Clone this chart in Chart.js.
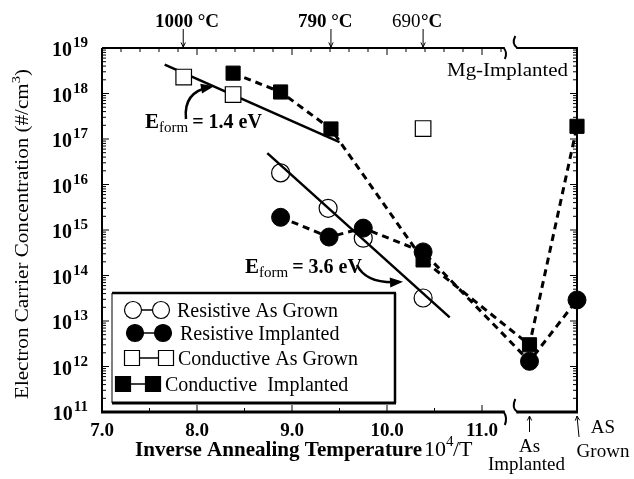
<!DOCTYPE html>
<html>
<head>
<meta charset="utf-8">
<script src="https://cdn.jsdelivr.net/npm/chart.js@4.4.0/dist/chart.umd.min.js"></script>
<style>
  html, body { margin: 0; padding: 0; background: #fff; }
  #wrap { width: 634px; height: 479px; }
</style>
</head>
<body>
<div id="wrap"><canvas id="myChart" width="634" height="479"></canvas></div>
<script>
// values: x = 10^4/T, y = electron concentration (cm^-3)
// 11.5 = "As Implanted", 12.0 = "AS Grown" (right of the axis break)
const resAsGrownX = [8.88, 9.38, 9.75, 10.38];
const resAsGrownY = [1.8e16, 3.0e15, 6.6e14, 3.2e13];

const resImplX = [8.88, 9.39, 9.75, 10.38, 11.5, 12.0];
const resImplY = [1.9e15, 7.0e14, 1.1e15, 3.3e14, 1.3e12, 2.9e13];

const condAsGrownX = [7.86, 8.38, 10.38];
const condAsGrownY = [2.3e18, 9.5e17, 1.7e17];

const condImplX = [8.38, 8.88, 9.41, 10.38, 11.5, 12.0];
const condImplY = [2.8e18, 1.08e18, 1.66e17, 2.2e14, 3.0e12, 1.9e17];

// the two activation energy fits
const fit14X = [7.66, 9.5];
const fit14Y = [4.3e18, 8.5e16];
const fit36X = [8.74, 10.66];
const fit36Y = [4.9e16, 1.2e13];

const xTickValues = [7, 8, 9, 10, 11];
const xTickLabels = ['7.0', '8.0', '9.0', '10.0', '11.0'];
const yExponents = [11, 12, 13, 14, 15, 16, 17, 18, 19];

const tempValues = [7.855, 9.41, 10.38];
const tempLabels = ['1000', '790', '690'];

const legendLabels = ['Resistive As Grown', 'Resistive Implanted', 'Conductive As Grown', 'Conductive  Implanted'];

const toPoints = (xs, ys) => xs.map((x, i) => ({ x: x, y: ys[i] }));

const SERIF = '"Liberation Serif", "Times New Roman", serif';

function line(c, x1, y1, x2, y2) {
    c.beginPath();
    c.moveTo(x1, y1);
    c.lineTo(x2, y2);
    c.stroke();
}

// text squeezed/stretched to a given width
function fitText(c, text, x, y, w) {
    const m = c.measureText(text).width;
    c.save();
    c.translate(x, y);
    c.scale(w / m, 1);
    c.fillText(text, 0, 0);
    c.restore();
}

function thinArrow(c, x1, y1, x2, y2) {
    line(c, x1, y1, x2, y2);
    const a = Math.atan2(y2 - y1, x2 - x1);
    c.beginPath();
    c.moveTo(x2 - 5 * Math.cos(a - 0.45), y2 - 5 * Math.sin(a - 0.45));
    c.lineTo(x2, y2);
    c.lineTo(x2 - 5 * Math.cos(a + 0.45), y2 - 5 * Math.sin(a + 0.45));
    c.stroke();
}

function curvedArrow(c, sx, sy, cx, cy, ex, ey) {
    c.lineWidth = 2.5;
    c.beginPath();
    c.moveTo(sx, sy);
    c.quadraticCurveTo(cx, cy, ex, ey);
    c.stroke();
    const a = Math.atan2(ey - cy, ex - cx);
    c.beginPath();
    c.moveTo(ex + 4 * Math.cos(a), ey + 4 * Math.sin(a));
    c.lineTo(ex - 9 * Math.cos(a) + 5 * Math.sin(a), ey - 9 * Math.sin(a) - 5 * Math.cos(a));
    c.lineTo(ex - 9 * Math.cos(a) - 5 * Math.sin(a), ey - 9 * Math.sin(a) + 5 * Math.cos(a));
    c.closePath();
    c.fill();
}

function eform(c, x, y, rest) {
    c.textAlign = 'left';
    c.font = 'bold 21px ' + SERIF;
    c.fillText('E', x, y);
    let w = c.measureText('E').width;
    c.font = '15px ' + SERIF;
    c.fillText('form', x + w, y + 4);
    w += c.measureText('form').width + 4;
    c.font = 'bold 20px ' + SERIF;
    c.fillText(rest, x + w, y);
}

function legendMark(c, kind, x, y) {
    c.lineWidth = 1.2;
    c.beginPath();
    if (kind === 'circle') {
        c.arc(x, y, 8.5, 0, Math.PI * 2);
    } else {
        c.rect(x - 7.5, y - 7.5, 15, 15);
    }
}

// frame + ticks go under the markers
const axesPlugin = {
    id: 'axes',
    beforeDatasetsDraw(chart) {
        const c = chart.ctx;
        const xs = chart.scales.x;
        const ys = chart.scales.y;
        const px = v => xs.getPixelForValue(v);
        const py = v => ys.getPixelForValue(v);
        const L = px(7), R = px(12), T = py(1e19), B = py(1e11);
        const b1 = px(11.24), b2 = px(11.34);

        c.save();
        c.strokeStyle = '#000';
        c.lineCap = 'butt';

        c.lineWidth = 2;
        line(c, L, T, L, B);
        line(c, R, T - 1, R, B);
        line(c, L, T, b1, T);
        line(c, b2 + 2, T, R + 1, T);
        c.lineWidth = 3;
        line(c, L - 1, B, b1, B);
        line(c, b2 + 2, B, R + 1, B);

        // break marks
        c.lineWidth = 2;
        c.beginPath();
        c.moveTo(b1 - 1, T);
        c.quadraticCurveTo(b1 + 3, T + 5, b1, T + 11);
        c.stroke();
        c.beginPath();
        c.moveTo(b2 + 1, T - 12);
        c.quadraticCurveTo(b2 - 3, T - 4, b2 + 3, T);
        c.stroke();
        c.beginPath();
        c.moveTo(b1 - 1, B);
        c.quadraticCurveTo(b1 + 3, B + 6, b1, B + 13);
        c.stroke();
        c.beginPath();
        c.moveTo(b2 + 1, B - 13);
        c.quadraticCurveTo(b2 - 3, B - 4, b2 + 3, B);
        c.stroke();

        // ticks, all pointing inward
        c.lineWidth = 1;
        for (let d = 11; d < 19; d++) {
            for (let m = 1; m < 10; m++) {
                const y = py(m * Math.pow(10, d));
                const len = m === 1 ? 7 : 4;
                line(c, L, y, L + len, y);
                line(c, R, y, R - len, y);
            }
        }
        for (let i = 36; i <= 56; i++) {
            const x = px(i / 5);
            line(c, x, T, x, T + (i % 5 === 0 ? 7 : 4));
        }
        for (let i = 15; i <= 22; i++) {
            const x = px(i / 2);
            line(c, x, B, x, B - (i % 2 === 0 ? 7 : 4));
        }
        c.restore();
    }
};

const labelPlugin = {
    id: 'labels',
    afterDraw(chart) {
        const c = chart.ctx;
        const xs = chart.scales.x;
        const ys = chart.scales.y;
        const px = v => xs.getPixelForValue(v);
        const py = v => ys.getPixelForValue(v);
        const L = px(7), R = px(12), T = py(1e19), B = py(1e11);

        c.save();
        c.strokeStyle = '#000';
        c.fillStyle = '#000';

        // y tick labels 10^n
        c.textBaseline = 'alphabetic';
        for (const e of yExponents) {
            const y = py(Math.pow(10, e));
            c.textAlign = 'right';
            c.font = 'bold 15px ' + SERIF;
            const ew = c.measureText(String(e)).width;
            c.fillText(String(e), L - 14, y - 1);
            c.font = 'bold 20px ' + SERIF;
            c.fillText('10', L - 15 - ew, y + 8);
        }

        // x tick labels
        c.textAlign = 'center';
        c.font = 'bold 19px ' + SERIF;
        xTickValues.forEach((v, i) => c.fillText(xTickLabels[i], px(v), B + 24));

        // x title
        c.textAlign = 'left';
        c.font = 'bold 21px ' + SERIF;
        fitText(c, 'Inverse Annealing Temperature', 135, 456, 287);
        c.font = '22px ' + SERIF;
        c.fillText('10', 424, 456);
        c.font = '15px ' + SERIF;
        c.fillText('4', 446, 446);
        c.font = '22px ' + SERIF;
        c.fillText('/T', 453, 456);

        // y title
        c.save();
        c.translate(28, 234);
        c.rotate(-Math.PI / 2);
        c.textAlign = 'left';
        c.font = '19px ' + SERIF;
        const t1 = 'Electron Carrier Concentration (#/cm';
        const w1 = c.measureText(t1).width;
        c.font = '13px ' + SERIF;
        const w3 = c.measureText('3').width;
        c.font = '19px ' + SERIF;
        const w2 = c.measureText(')').width;
        const k = 330 / (w1 + w2 + w3);
        c.scale(k, 1);
        const x0 = -(w1 + w2 + w3) / 2;
        c.fillText(t1, x0, 0);
        c.font = '13px ' + SERIF;
        c.fillText('3', x0 + w1, -8);
        c.font = '19px ' + SERIF;
        c.fillText(')', x0 + w1 + w3, 0);
        c.restore();

        // top temperature markers
        c.lineWidth = 1;
        tempValues.forEach(v => {
            const x = px(v);
            thinArrow(c, x, 29, x, T - 1);
        });
        c.textAlign = 'left';
        c.font = 'bold 19px ' + SERIF;
        c.fillText(tempLabels[0] + ' \u00b0C', 155, 27);
        c.fillText(tempLabels[1] + ' \u00b0C', 298, 27);
        c.font = '19px ' + SERIF;
        c.fillText(tempLabels[2], 392, 27);
        c.font = 'bold 19px ' + SERIF;
        c.fillText('\u00b0C', 421, 27);

        // annotations
        c.font = '19px ' + SERIF;
        fitText(c, 'Mg-Implanted', 447, 76, 121);
        eform(c, 145, 128, '= 1.4 eV');
        eform(c, 245, 273, '= 3.6 eV');
        curvedArrow(c, 186, 119, 183, 92, 210, 87);
        curvedArrow(c, 357, 265, 366, 284, 399, 282);

        // labels under the break
        c.lineWidth = 1;
        thinArrow(c, px(11.5), 432, px(11.5), B + 4);
        thinArrow(c, R + 2, 437, R, B + 4);
        c.font = '19px ' + SERIF;
        c.textAlign = 'center';
        c.fillText('As', px(11.5), 452);
        c.fillText('Implanted', px(11.5) - 3, 470);
        c.fillText('AS', 603, 433);
        c.fillText('Grown', 603, 457);

        // legend box
        c.fillStyle = '#fff';
        c.fillRect(112, 293, 284, 110);
        c.fillStyle = '#000';
        c.lineWidth = 1;
        line(c, 112, 293, 112, 403);
        c.lineWidth = 2.5;
        line(c, 112, 293, 396, 293);
        line(c, 395, 293, 395, 403);
        c.lineWidth = 3;
        line(c, 112, 403, 396, 403);

        const rows = [
            { y: 310, kind: 'circle', filled: false, a: 133, b: 161, tx: 177 },
            { y: 333, kind: 'circle', filled: true, a: 135, b: 163, tx: 180 },
            { y: 358, kind: 'rect', filled: false, a: 132, b: 166, tx: 178 },
            { y: 384, kind: 'rect', filled: true, a: 123, b: 153, tx: 165 }
        ];
        rows.forEach((r, i) => {
            c.lineWidth = 1.5;
            line(c, r.a, r.y, r.b, r.y);
            [r.a, r.b].forEach(x => {
                legendMark(c, r.kind, x, r.y);
                c.fillStyle = r.filled ? '#000' : '#fff';
                c.fill();
                c.stroke();
            });
            c.fillStyle = '#000';
            c.textAlign = 'left';
            c.font = '20px ' + SERIF;
            c.fillText(legendLabels[i], r.tx, r.y + 7);
        });

        c.restore();
    }
};

const ctx = document.querySelector('#myChart');
const myChart = new Chart(ctx, {
    type: 'scatter',
    data: {
        datasets: [
            {
                label: 'fit 1.4 eV',
                data: toPoints(fit14X, fit14Y),
                showLine: true,
                borderColor: '#000',
                borderWidth: 2.5,
                pointRadius: 0,
                order: 5
            },
            {
                label: 'fit 3.6 eV',
                data: toPoints(fit36X, fit36Y),
                showLine: true,
                borderColor: '#000',
                borderWidth: 2.5,
                pointRadius: 0,
                order: 5
            },
            {
                label: legendLabels[3],
                data: toPoints(condImplX, condImplY),
                showLine: true,
                clip: false,
                borderColor: '#000',
                borderWidth: 3,
                borderDash: [7, 5],
                pointStyle: 'rect',
                pointRadius: 10,
                pointBackgroundColor: '#000',
                pointBorderColor: '#000',
                pointBorderWidth: 1,
                order: 3
            },
            {
                label: legendLabels[1],
                data: toPoints(resImplX, resImplY),
                showLine: true,
                clip: false,
                borderColor: '#000',
                borderWidth: 3,
                borderDash: [7, 5],
                pointStyle: 'circle',
                pointRadius: 9,
                pointBackgroundColor: '#000',
                pointBorderColor: '#000',
                pointBorderWidth: 1,
                order: 2
            },
            {
                label: legendLabels[0],
                data: toPoints(resAsGrownX, resAsGrownY),
                showLine: false,
                pointStyle: 'circle',
                pointRadius: 9,
                pointBackgroundColor: 'rgba(255,255,255,0)',
                pointBorderColor: '#000',
                pointBorderWidth: 1.2,
                order: 1
            },
            {
                label: legendLabels[2],
                data: toPoints(condAsGrownX, condAsGrownY),
                showLine: false,
                pointStyle: 'rect',
                pointRadius: 11,
                pointBackgroundColor: '#fff',
                pointBorderColor: '#000',
                pointBorderWidth: 1.2,
                order: 4
            }
        ]
    },
    options: {
        responsive: false,
        animation: false,
        layout: { padding: { left: 102, right: 57, top: 48, bottom: 67 } },
        scales: {
            x: { type: 'linear', min: 7, max: 12, display: false },
            y: { type: 'logarithmic', min: 1e11, max: 1e19, display: false }
        },
        plugins: {
            legend: { display: false },
            tooltip: { enabled: false }
        }
    },
    plugins: [axesPlugin, labelPlugin]
});
</script>
</body>
</html>
